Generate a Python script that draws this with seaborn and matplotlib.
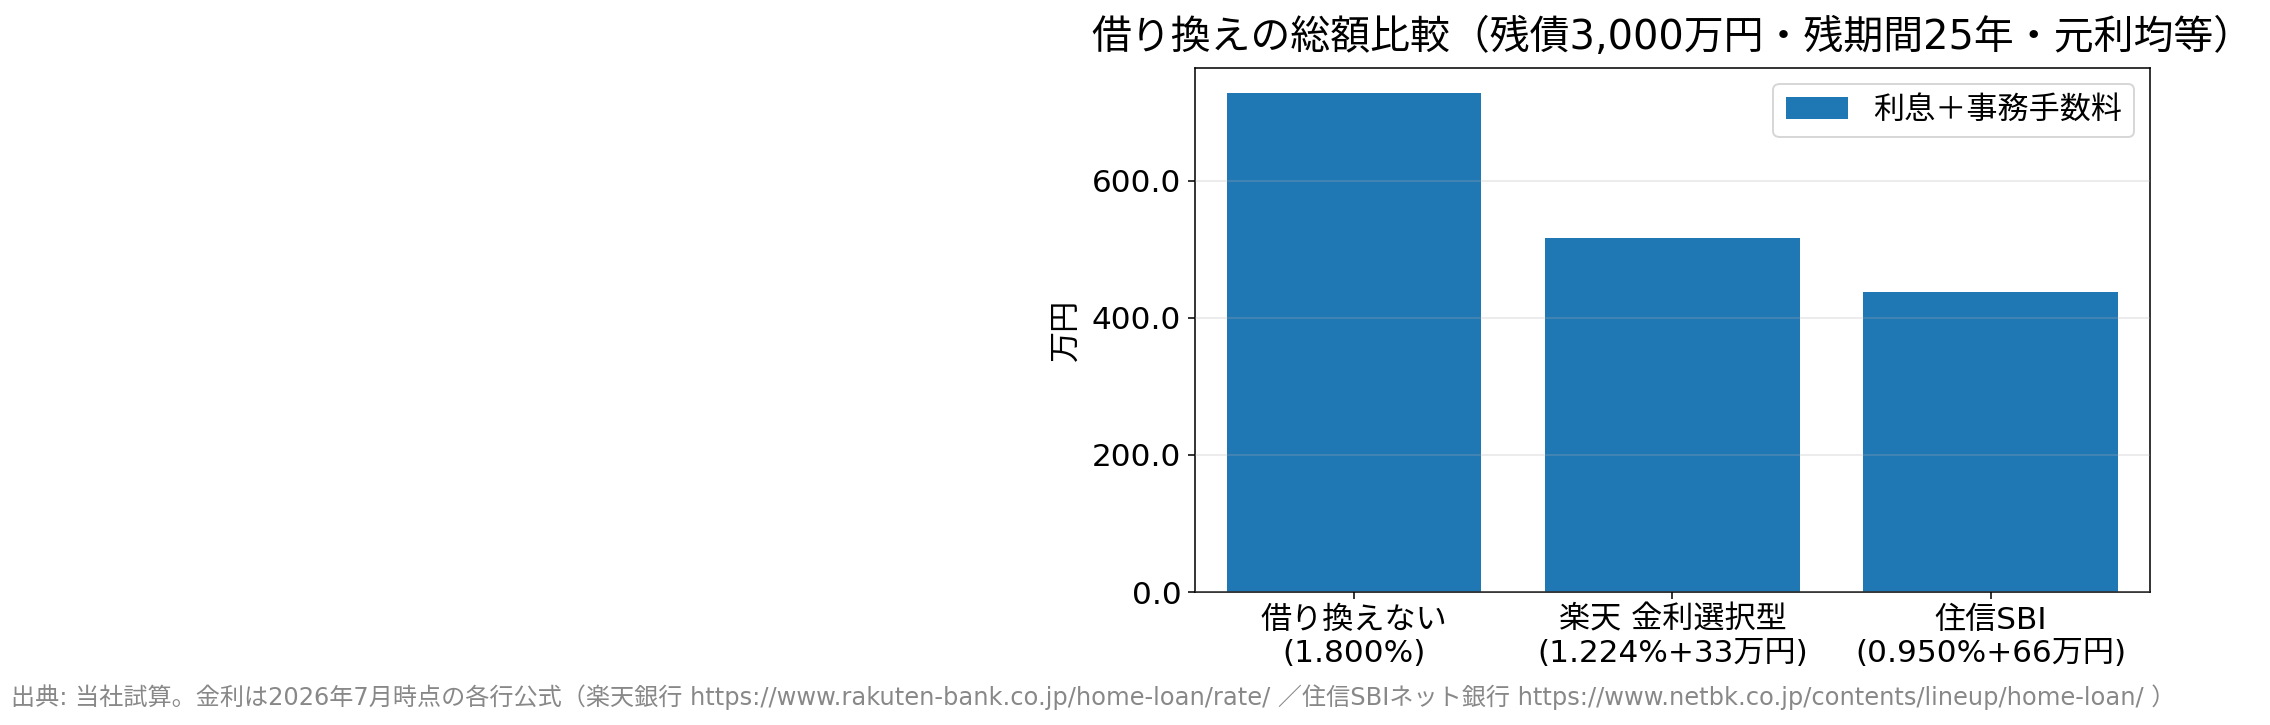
"""借り換えの総額比較（棒グラフ）"""
import matplotlib
matplotlib.use("Agg")
import matplotlib.pyplot as plt
import seaborn as sns
from matplotlib.ticker import FormatStrFormatter

# 欧文は DejaVu Sans、和文は Noto Sans CJK JP にフォールバック
plt.rcParams["font.family"] = ["DejaVu Sans", "Noto Sans CJK JP"]

# データ（万円）
labels = ["借り換えない\n(1.800%)", "楽天 金利選択型\n(1.224%+33万円)", "住信SBI\n(0.950%+66万円)"]
totals = [728, 516, 437]
series_name = "利息＋事務手数料"
title = "借り換えの総額比較（残債3,000万円・残期間25年・元利均等）"
footer = ("出典: 当社試算。金利は2026年7月時点の各行公式（楽天銀行 https://www.rakuten-bank.co.jp/home-loan/rate/ "
          "／住信SBIネット銀行 https://www.netbk.co.jp/contents/lineup/home-loan/ ）")

DPI = 140
fig = plt.figure(figsize=(2270 / DPI, 725 / DPI), dpi=DPI)
ax = fig.add_axes([0.5264, 0.1834, 0.4207, 0.7228])

sns.barplot(x=labels, y=totals, color="#1f77b4", saturation=1, width=0.8,
            label=series_name, ax=ax)

ax.set_title(title, fontsize=20.5, pad=10)
ax.set_ylabel("万円", fontsize=16, labelpad=6)
ax.set_xlabel("")
ax.yaxis.set_major_formatter(FormatStrFormatter("%.1f"))
ax.tick_params(axis="both", labelsize=16)
ax.set_yticks([0, 200, 400, 600])
ax.grid(axis="y", alpha=0.3)
ax.set_axisbelow(False)
ax.legend(loc="upper right", fontsize=16)

fig.text(0.005, 0.038, footer, fontsize=12.4, color="#888888", ha="left", va="center")

fig.savefig("out.png", dpi=DPI)
plt.close(fig)
